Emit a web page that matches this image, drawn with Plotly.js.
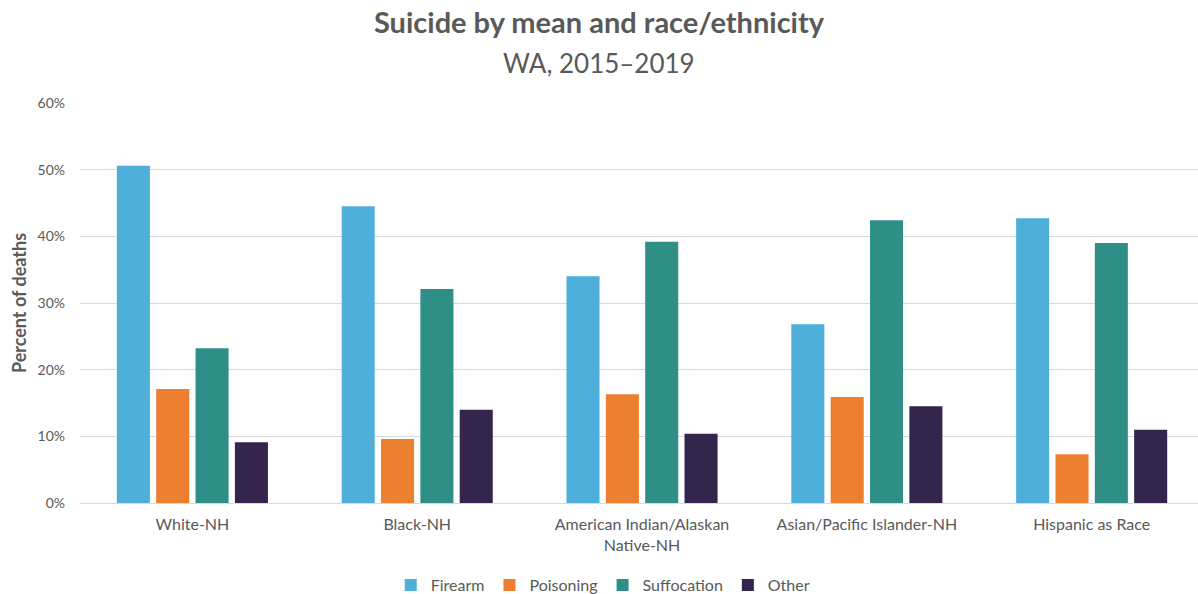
<!DOCTYPE html>
<html>
<head>
<meta charset="utf-8">
<script src="https://cdn.plot.ly/plotly-3.0.1.min.js"></script>
<style>html,body{margin:0;padding:0;background:#fff;}#chart{width:1198px;height:594px;}</style>
</head>
<body>
<div id="chart"></div>
<script>
var categories = ["White-NH", "Black-NH", "American Indian/Alaskan<br>Native-NH", "Asian/Pacific Islander-NH", "Hispanic as Race"];
var firearm = [50.6, 44.5, 34.0, 26.8, 42.7];
var poisoning = [17.1, 9.6, 16.3, 15.9, 7.3];
var suffocation = [23.2, 32.1, 39.2, 42.4, 39.0];
var other = [9.1, 14.0, 10.4, 14.5, 11.0];
var seriesNames = ["Firearm", "Poisoning", "Suffocation", "Other"];
var seriesColors = ["#4FAFDB", "#ED7F30", "#2F8F86", "#33254C"];
var yTicks = [0, 10, 20, 30, 40, 50, 60];

var data = [firearm, poisoning, suffocation, other].map(function (vals, i) {
  return {
    type: "bar",
    name: seriesNames[i],
    x: [0, 1, 2, 3, 4],
    y: vals,
    marker: { color: seriesColors[i], line: { width: 0 } },
    hoverinfo: "name+y"
  };
});

var font = "Lato, 'Open Sans', sans-serif";
var layout = {
  width: 1198,
  height: 594,
  margin: { l: 80, r: 0, t: 103, b: 91, autoexpand: false },
  paper_bgcolor: "#fff",
  plot_bgcolor: "#fff",
  barmode: "group",
  bargap: 0.30,
  bargroupgap: 0.16,
  showlegend: true,
  legend: {
    orientation: "h",
    x: 0.468, xanchor: "center",
    yref: "container",
    y: 1 - 585 / 594, yanchor: "middle",
    font: { family: font, size: 16, color: "#595959" },
    itemwidth: 30,
    traceorder: "normal"
  },
  title: {
    text: "<b>Suicide by mean and race/ethnicity</b>",
    font: { family: font, size: 29, color: "#595959" },
    x: 0.5, xanchor: "center",
    xref: "container",
    yref: "container",
    y: 1 - 23 / 594, yanchor: "middle"
  },
  annotations: [{
    text: "WA, 2015–2019",
    font: { family: font, size: 26, color: "#595959" },
    xref: "paper", yref: "paper",
    x: (599 - 80) / 1118, xanchor: "center",
    y: (503 - 63) / 400, yanchor: "middle",
    showarrow: false
  }],
  xaxis: {
    range: [-0.5, 4.473],
    tickmode: "array",
    tickvals: [0, 1, 2, 3, 4],
    ticktext: categories,
    tickfont: { family: font, size: 16, color: "#595959" },
    showgrid: false,
    zeroline: false,
    showline: false,
    ticks: "",
    ticklen: 0,
    ticklabelstandoff: 10,
    automargin: false
  },
  yaxis: {
    range: [0, 60],
    tickmode: "array",
    tickvals: yTicks,
    ticktext: yTicks.map(function (v) { return v + "%"; }),
    tickfont: { family: font, size: 14, color: "#595959" },
    showgrid: true,
    gridcolor: "#D9D9D9",
    gridwidth: 1,
    zeroline: true,
    zerolinecolor: "#D9D9D9",
    zerolinewidth: 1,
    showline: false,
    ticks: "",
    ticklabelstandoff: 14,
    automargin: false,
    title: {
      text: "<b>Percent of deaths</b>",
      font: { family: font, size: 18, color: "#595959" },
      standoff: 6
    }
  }
};

Plotly.newPlot("chart", data, layout, { displayModeBar: false, staticPlot: true });
</script>
</body>
</html>
